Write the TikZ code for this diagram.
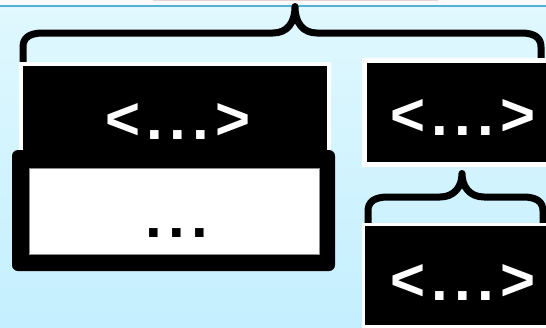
\documentclass[tikz,border=0pt]{standalone}
\usepackage{fontspec}
\newfontfamily\tagfont[LetterSpace=10.5]{Liberation Sans}
\definecolor{bgTop}{HTML}{E0F8FE}
\definecolor{bgBottom}{HTML}{C4EFFE}
\definecolor{ruleBlue}{HTML}{55B0D8}
\definecolor{paper}{HTML}{FAFAFA}
\definecolor{tabEdge}{HTML}{E8D2D2}
\tikzset{
  tag/.style   ={font=\tagfont\bfseries\fontsize{60}{60}\selectfont, inner sep=0pt, anchor=base},
  slot/.style  ={fill=black, draw=white, inner sep=0pt},
  brace/.style ={line width=7pt, line cap=round, line join=round},
}
% curly brace: left x, tip x, right x, end y, bar y, tip y
\newcommand{\curlybrace}[6]{%
  \draw[brace] (#1,#4) -- (#1,#5+14) .. controls (#1,#5+5) and (#1+6,#5) .. (#1+20,#5)
    -- (#2-22,#5) .. controls (#2-8,#5) and (#2,#5-10) .. (#2,#6)
    .. controls (#2,#5-10) and (#2+8,#5) .. (#2+22,#5)
    -- (#3-20,#5) .. controls (#3-6,#5) and (#3,#5+5) .. (#3,#5+14) -- (#3,#4);
}
\begin{document}
\begin{tikzpicture}[x=1pt, y=-1pt]
  \useasboundingbox (0,0) rectangle (546,327);
  \clip (0,0) rectangle (546,327);
  % backdrop
  \fill[paper] (0,0) rectangle (546,7);
  \fill[top color=bgTop, bottom color=bgBottom] (0,7) rectangle (546,327);
  \draw[tabEdge, line width=1pt] (153,0.5) -- (438,0.5);
  \draw[ruleBlue, line width=2pt] (0,6) -- (546,6);

  \curlybrace{23}{295}{541}{62}{33}{6.5}
  \curlybrace{368}{462}{543}{225}{197}{173.5}

  % left column
  \node[slot, line width=4pt, minimum width=308pt, minimum height=97pt] (head) at (175,112) {};
  \node[fill=black, rounded corners=6pt, inner sep=0pt, minimum width=323pt, minimum height=121pt] (body) at (173.5,210.5) {};
  \node[fill=white, draw=black!45, line width=0.8pt, inner sep=0pt, minimum width=290pt, minimum height=86pt] (bodyIn) at (174,211) {};
  % right column
  \node[slot, line width=5pt, minimum width=195.5pt, minimum height=103.5pt] (side) at (462.25,112.25) {};
  \node[slot, line width=3pt, minimum width=196.5pt, minimum height=102pt] (sub) at (461.75,275.5) {};

  \node[tag, text=white] (headTag) at (178,139) {<...>};
  \node[tag] (bodyTag) at (177,237) {...};
  \node[tag, text=white] (sideTag) at (463,135) {<...>};
  \node[tag, text=white] (subTag) at (463,300) {<...>};
\end{tikzpicture}
\end{document}
